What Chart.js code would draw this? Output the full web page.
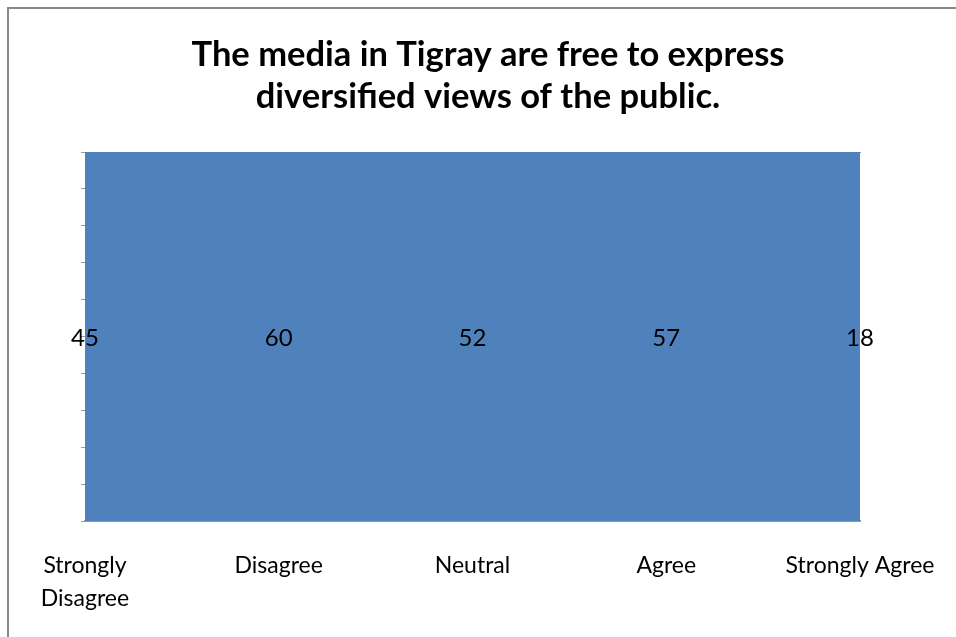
<!DOCTYPE html>
<html>
<head>
<meta charset="utf-8">
<script src="https://cdn.jsdelivr.net/npm/chart.js@4.4.1/dist/chart.umd.min.js"></script>
<style>
  html, body { margin: 0; padding: 0; background: #fff; overflow: hidden; }
  #frame {
    position: absolute; left: 7px; top: 7px;
    width: 958px; height: 640px;
    border-left: 2px solid #888;
    border-top: 2px solid #888;
  }
  #chart { display: block; }
</style>
</head>
<body>
<div id="frame"><canvas id="chart" width="958" height="628"></canvas></div>
<script>
const categories = [["Strongly", "Disagree"], "Disagree", "Neutral", "Agree", "Strongly Agree"];
const responses = [45, 60, 52, 57, 18];
const titleLines = ["The media in Tigray are free to express", "diversified views of the public."];
// the value axis only goes to 10, so every point sits above it
const axisMin = 0;
const axisMax = 10;

const fontName = "Lato, 'Liberation Sans', sans-serif";
const blue = "#4F81BD";
const axisGray = "#999";

// value labels sit halfway down the plot, one per category
const valueLabels = {
  id: "valueLabels",
  afterDatasetsDraw(chart) {
    const ctx = chart.ctx;
    const area = chart.chartArea;
    const x = chart.scales.x;
    const midY = (area.top + area.bottom) / 2 + 2;
    ctx.save();
    ctx.font = "24px " + fontName;
    ctx.fillStyle = "#000";
    ctx.textAlign = "center";
    ctx.textBaseline = "middle";
    responses.forEach((v, i) => {
      ctx.fillText(String(v), x.getPixelForValue(i), midY);
    });
    ctx.restore();
  }
};

const ctx = document.getElementById("chart").getContext("2d");
const myChart = new Chart(ctx, {
  type: "line",
  data: {
    labels: categories,
    datasets: [{
      data: responses,
      fill: "origin",
      backgroundColor: blue,
      borderColor: blue,
      borderWidth: 0,
      pointRadius: 0,
      tension: 0
    }]
  },
  options: {
    responsive: false,
    animation: false,
    layout: { padding: 0 },
    plugins: {
      legend: { display: false },
      tooltip: { enabled: false },
      title: {
        display: true,
        text: titleLines,
        color: "#000",
        font: { family: fontName, size: 34.5, weight: "bold", lineHeight: "42px" },
        padding: { top: 25, bottom: 34 }
      }
    },
    scales: {
      x: {
        offset: false,
        grid: { display: false, drawTicks: false },
        border: { display: true, color: axisGray, width: 2 },
        ticks: {
          autoSkip: false,
          maxRotation: 0,
          padding: 28,
          color: "#000",
          font: { family: fontName, size: 23, lineHeight: 1.45 }
        },
        afterFit(scale) { scale.height = 116; }
      },
      xTop: {
        position: "top",
        type: "category",
        labels: categories,
        offset: false,
        grid: { display: false, drawTicks: false },
        border: { display: true, color: axisGray, width: 1 },
        ticks: { display: false },
        afterFit(scale) { scale.height = 0; }
      },
      y: {
        min: axisMin,
        max: axisMax,
        ticks: { display: false, stepSize: 1 },
        grid: { drawOnChartArea: false, drawTicks: true, tickLength: 4, color: axisGray },
        border: { display: true, color: axisGray, width: 1 },
        afterFit(scale) { scale.width = 76; }
      },
      // empty right-hand margin so the plot ends short of the frame
      yRight: {
        position: "right",
        min: axisMin,
        max: axisMax,
        grid: { display: false, drawTicks: false },
        border: { display: false },
        ticks: { display: false },
        afterFit(scale) { scale.width = 107; }
      }
    }
  },
  plugins: [valueLabels]
});
</script>
</body>
</html>
